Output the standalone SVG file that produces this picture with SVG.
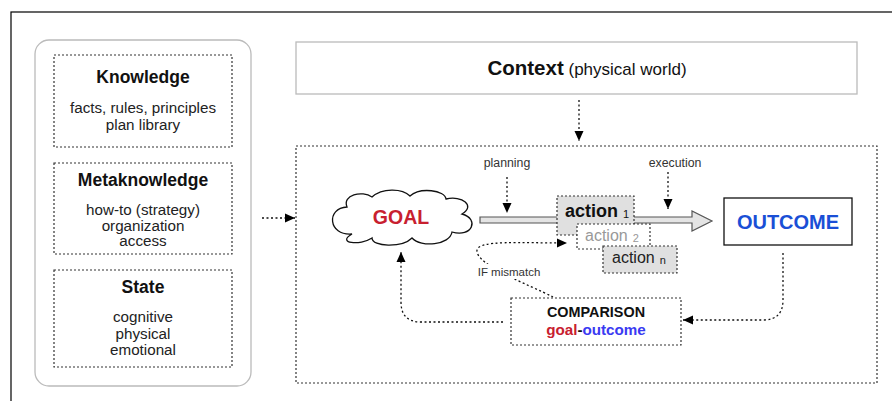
<svg xmlns="http://www.w3.org/2000/svg" width="892" height="401" viewBox="0 0 892 401">
<defs>
<style>
text{font-family:"Liberation Sans",Arial,Helvetica,sans-serif;fill:#111}
.dot{fill:none;stroke:#333;stroke-width:1.2;stroke-dasharray:2 2}
.ttl{font-size:17.5px;font-weight:bold;text-anchor:middle}
.body{font-size:15.2px;text-anchor:middle;fill:#222}
.small{font-size:12.3px;text-anchor:middle;fill:#333}
.con{fill:none;stroke:#111;stroke-width:1.3;stroke-dasharray:2 2.5}
.sub{font-size:11px;font-weight:normal}
</style>
<marker id="ah" viewBox="0 0 10 10" refX="10" refY="5" markerWidth="10" markerHeight="10" markerUnits="userSpaceOnUse" orient="auto">
<path d="M0,0.5 L10,5 L0,9.5 Z" fill="#000"/>
</marker>
</defs>
<rect x="11" y="12" width="900" height="400" fill="#fff" stroke="#000" stroke-width="1.2"/>

<g id="agent-panel">
<rect x="35" y="40" width="216" height="346" rx="14" fill="none" stroke="#bbb" stroke-width="1.3"/>
</g>
<g id="knowledge">
<rect class="dot" x="54" y="55" width="178" height="92"/>
<text class="ttl" x="143" y="83">Knowledge</text>
<text class="body" x="143" y="113">facts, rules, principles</text>
<text class="body" x="143" y="130">plan library</text>
</g>
<g id="metaknowledge">
<rect class="dot" x="54" y="163" width="178" height="91"/>
<text class="ttl" x="143" y="186">Metaknowledge</text>
<text class="body" x="143" y="215">how-to (strategy)</text>
<text class="body" x="143" y="230.5">organization</text>
<text class="body" x="143" y="246">access</text>
</g>
<g id="state">
<rect class="dot" x="54" y="270" width="178" height="97"/>
<text class="ttl" x="143" y="293">State</text>
<text class="body" x="143" y="322">cognitive</text>
<text class="body" x="143" y="338.5">physical</text>
<text class="body" x="143" y="355">emotional</text>
</g>

<g id="context">
<rect x="296" y="42" width="561" height="52" fill="#fff" stroke="#bbb" stroke-width="1.3"/>
<text x="587" y="75" text-anchor="middle"><tspan font-weight="bold" font-size="20.5px">Context</tspan><tspan font-size="17px"> (physical world)</tspan></text>
</g>

<g id="process">
<rect class="dot" x="296" y="146" width="581" height="237"/>
</g>

<g id="connectors">
<path class="con" d="M262,218 L295,218" marker-end="url(#ah)"/>
<path class="con" d="M579,100 L579,141" marker-end="url(#ah)"/>
<path class="con" d="M507,177 L507,213" marker-end="url(#ah)"/>
<path class="con" d="M668,172 L668,209" marker-end="url(#ah)"/>
<path class="con" d="M783,253 L783,300 Q783,320 763,320 L683,320" marker-end="url(#ah)"/>
<path class="con" d="M503,322 L421,322 Q401,322 401,302 L401,252" marker-end="url(#ah)"/>
<path class="con" d="M553,297 C530,285 475,265 477,250 C479,240 520,243 567,243" marker-end="url(#ah)"/>
</g>

<g id="goal">
<path d="M352,234 C328,236 326,208 347,207 C342,195 362,190 372,197 C382,188 402,188 410,196 C420,187 445,190 446,199 C462,195 476,206 462,214 C480,219 472,238 452,232 C450,245 421,248 412,238 C402,248 372,247 372,238 C360,246 336,243 352,234 Z" fill="#fff" stroke="#111" stroke-width="1.3"/>
<text x="401" y="224" text-anchor="middle" font-size="19.5px" font-weight="bold" style="fill:#c8202f">GOAL</text>
</g>

<g id="plan-arrow">
<polygon points="480,217 692,217 692,211 712,221 692,231 692,223 480,223" fill="#e4e4e4" stroke="#555" stroke-width="1.2"/>
</g>

<g id="labels">
<text class="small" x="507" y="167">planning</text>
<text class="small" x="675" y="167">execution</text>
<rect x="478" y="264" width="62" height="15" fill="#fff"/>
<text x="509" y="276" text-anchor="middle" font-size="11.5px" style="fill:#333">IF mismatch</text>
</g>

<g id="action1">
<rect class="dot" x="557" y="196" width="77" height="39" style="fill:#e0e0e0"/>
<text x="565" y="217" font-size="18px" font-weight="bold">action<tspan class="sub" dx="5" dy="1">1</tspan></text>
</g>
<g id="action2">
<rect class="dot" x="577" y="224" width="73" height="25" style="fill:#fff"/>
<text x="585" y="241" font-size="16px" style="fill:#999">action<tspan class="sub" dx="5" dy="1" style="fill:#999">2</tspan></text>
</g>
<g id="actionn">
<rect class="dot" x="603" y="246" width="74" height="27" style="fill:#e0e0e0"/>
<text x="612" y="263" font-size="16px" style="fill:#222">action<tspan class="sub" dx="5" dy="1">n</tspan></text>
</g>

<g id="outcome">
<rect x="724" y="198" width="128" height="47" fill="#fff" stroke="#111" stroke-width="1.3"/>
<text x="788" y="229" text-anchor="middle" font-size="20px" font-weight="bold" style="fill:#1a4fd6">OUTCOME</text>
</g>

<g id="comparison">
<rect class="dot" x="511" y="298" width="170" height="47" style="fill:#fff"/>
<text x="596" y="317" text-anchor="middle" font-size="14.4px" font-weight="bold">COMPARISON</text>
<text x="596" y="335" text-anchor="middle" font-size="15.2px" font-weight="bold"><tspan style="fill:#c8202f">goal</tspan>-<tspan style="fill:#3a3af2">outcome</tspan></text>
</g>
</svg>
